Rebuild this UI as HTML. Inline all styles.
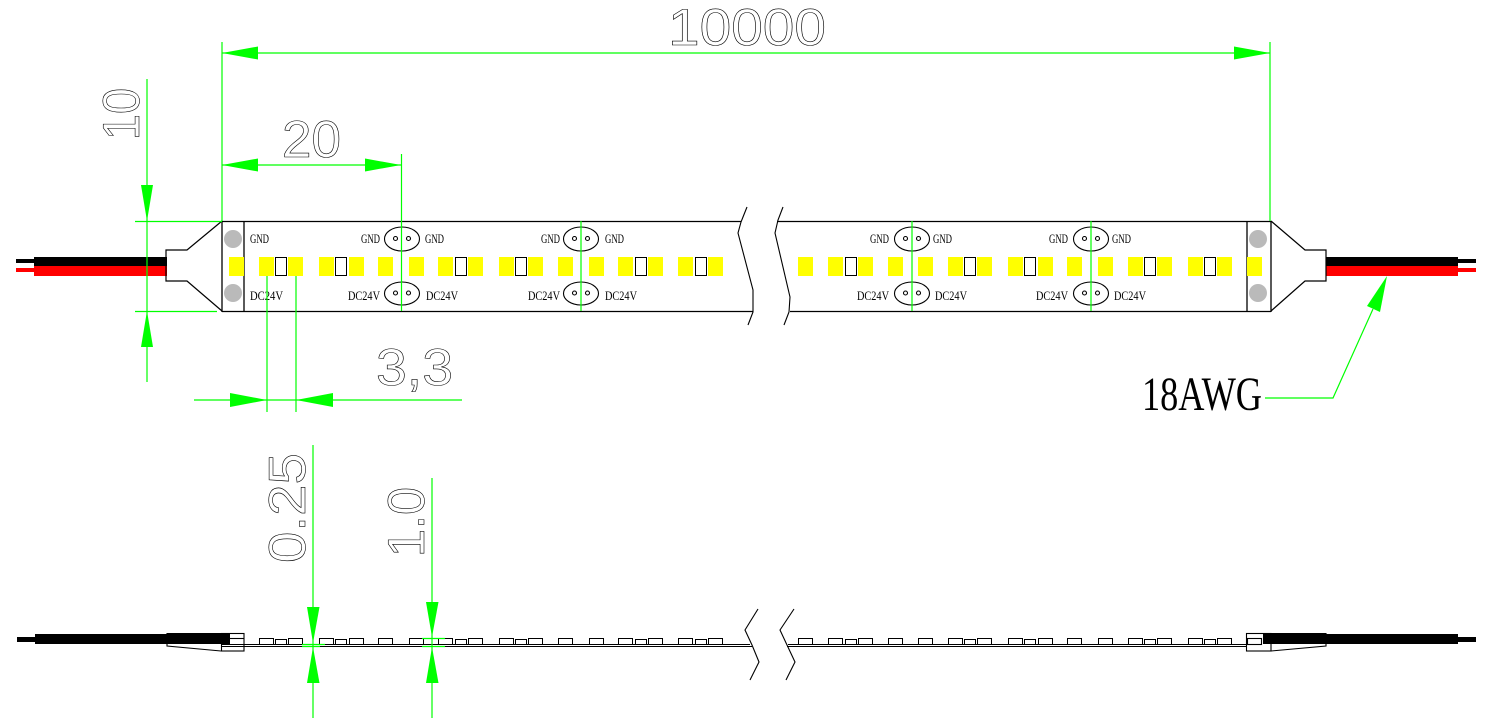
<!DOCTYPE html>
<html>
<head>
<meta charset="utf-8">
<style>
html,body{margin:0;padding:0;background:#fff;}
svg{display:block;}
.dt{font-family:"Liberation Sans",sans-serif;fill:none;stroke:#000;stroke-width:0.6;}
.lb{font-family:"Liberation Serif",serif;font-size:13px;fill:#000;}
</style>
</head>
<body>
<svg width="1489" height="724" viewBox="0 0 1489 724" xmlns="http://www.w3.org/2000/svg">
<defs>
<rect id="led" x="0" y="257" width="15" height="19" fill="#ffff00"/>
<rect id="res" x="0.5" y="257.5" width="11" height="18" fill="#fff" stroke="#000" stroke-width="1"/>
<rect id="sled" x="0.5" y="638.5" width="14" height="6" fill="#fff" stroke="#000" stroke-width="1"/>
<rect id="sres" x="0.5" y="639.5" width="11" height="5" fill="#fff" stroke="#000" stroke-width="1"/>
<g id="pad" fill="none" stroke="#000" stroke-width="1.1">
<ellipse cx="0" cy="239" rx="17.5" ry="12"/>
<ellipse cx="0" cy="293.5" rx="17.5" ry="11.5"/>
<circle cx="-6.5" cy="238.5" r="2"/><circle cx="6.5" cy="238.5" r="2"/>
<circle cx="-6.5" cy="293" r="2"/><circle cx="6.5" cy="293" r="2"/>
</g>
</defs>
<rect x="0" y="0" width="1489" height="724" fill="#fff"/>

<!-- TOP VIEW wires -->
<rect x="16" y="259" width="18" height="4" fill="#000"/>
<rect x="16" y="268" width="18" height="4" fill="#f00"/>
<rect x="34" y="257" width="133" height="9" fill="#000"/>
<rect x="34" y="266" width="133" height="10" fill="#f00"/>
<polyline points="222,221 187,250 166,250 166,281 187,281 222,311" fill="none" stroke="#000" stroke-width="1.2"/>
<rect x="1458" y="259" width="18" height="4" fill="#000"/>
<rect x="1458" y="268" width="18" height="4" fill="#f00"/>
<rect x="1326" y="257" width="132" height="9" fill="#000"/>
<rect x="1326" y="266" width="132" height="10" fill="#f00"/>
<polyline points="1271,221 1305,250 1326,250 1326,281 1305,281 1271,311" fill="none" stroke="#000" stroke-width="1.2"/>

<!-- strip outlines -->
<g stroke="#000" stroke-width="1.3" fill="none">
<line x1="222" y1="221.5" x2="741" y2="221.5"/>
<line x1="222" y1="311.5" x2="753" y2="311.5"/>
<line x1="222" y1="221" x2="222" y2="312"/>
<line x1="244" y1="221" x2="244" y2="312"/>
<line x1="777" y1="221.5" x2="1271" y2="221.5"/>
<line x1="790" y1="311.5" x2="1271" y2="311.5"/>
<line x1="1271" y1="221" x2="1271" y2="312"/>
<line x1="1247" y1="221" x2="1247" y2="312"/>
<polyline points="747,207 743,217 741,222 738,233 753,290 753,312 748,325" stroke-width="1.1"/>
<polyline points="783,207 778,220 775,233 790,297 789,312 784,325" stroke-width="1.1"/>
</g>

<circle cx="233" cy="239" r="9" fill="#bababa"/>
<circle cx="233" cy="293" r="9" fill="#bababa"/>
<circle cx="1258" cy="239" r="9" fill="#bababa"/>
<circle cx="1258" cy="293" r="9" fill="#bababa"/>

<!-- LEDs top -->
<use href="#led" x="229"/><use href="#led" x="259"/><use href="#led" x="288"/><use href="#led" x="319"/>
<use href="#led" x="349"/><use href="#led" x="378"/><use href="#led" x="409"/><use href="#led" x="438"/>
<use href="#led" x="468"/><use href="#led" x="499"/><use href="#led" x="528"/><use href="#led" x="558"/>
<use href="#led" x="589"/><use href="#led" x="618"/><use href="#led" x="648"/><use href="#led" x="678"/>
<use href="#led" x="708"/>
<use href="#led" x="798"/><use href="#led" x="828"/><use href="#led" x="858"/><use href="#led" x="888"/>
<use href="#led" x="918"/><use href="#led" x="948"/><use href="#led" x="977"/><use href="#led" x="1008"/>
<use href="#led" x="1038"/><use href="#led" x="1067"/><use href="#led" x="1098"/><use href="#led" x="1128"/>
<use href="#led" x="1157"/><use href="#led" x="1188"/><use href="#led" x="1217"/><use href="#led" x="1247"/>
<use href="#res" x="275"/><use href="#res" x="335"/><use href="#res" x="455"/><use href="#res" x="515"/>
<use href="#res" x="635"/><use href="#res" x="695"/><use href="#res" x="845"/><use href="#res" x="964"/>
<use href="#res" x="1024"/><use href="#res" x="1144"/><use href="#res" x="1204"/>

<!-- pads -->
<use href="#pad" x="402"/><use href="#pad" x="581"/><use href="#pad" x="912"/><use href="#pad" x="1091"/>

<!-- labels -->
<g class="lb">
<text x="250" y="243" textLength="19" lengthAdjust="spacingAndGlyphs">GND</text>
<text x="250" y="300" textLength="33" lengthAdjust="spacingAndGlyphs">DC24V</text>
<text x="361" y="243" textLength="19" lengthAdjust="spacingAndGlyphs">GND</text>
<text x="425" y="243" textLength="19" lengthAdjust="spacingAndGlyphs">GND</text>
<text x="348" y="300" textLength="32" lengthAdjust="spacingAndGlyphs">DC24V</text>
<text x="426" y="300" textLength="32" lengthAdjust="spacingAndGlyphs">DC24V</text>
<text x="541" y="243" textLength="19" lengthAdjust="spacingAndGlyphs">GND</text>
<text x="605" y="243" textLength="19" lengthAdjust="spacingAndGlyphs">GND</text>
<text x="528" y="300" textLength="32" lengthAdjust="spacingAndGlyphs">DC24V</text>
<text x="605" y="300" textLength="32" lengthAdjust="spacingAndGlyphs">DC24V</text>
<text x="870" y="243" textLength="19" lengthAdjust="spacingAndGlyphs">GND</text>
<text x="933" y="243" textLength="19" lengthAdjust="spacingAndGlyphs">GND</text>
<text x="857" y="300" textLength="32" lengthAdjust="spacingAndGlyphs">DC24V</text>
<text x="935" y="300" textLength="32" lengthAdjust="spacingAndGlyphs">DC24V</text>
<text x="1049" y="243" textLength="19" lengthAdjust="spacingAndGlyphs">GND</text>
<text x="1112" y="243" textLength="19" lengthAdjust="spacingAndGlyphs">GND</text>
<text x="1036" y="300" textLength="32" lengthAdjust="spacingAndGlyphs">DC24V</text>
<text x="1114" y="300" textLength="32" lengthAdjust="spacingAndGlyphs">DC24V</text>
</g>

<!-- DIMENSIONS TOP -->
<g stroke="#00ff00" stroke-width="1.2" fill="none">
<line x1="222" y1="42" x2="222" y2="221"/>
<line x1="1270" y1="42" x2="1270" y2="221"/>
<line x1="222" y1="53" x2="1270" y2="53"/>
<line x1="222" y1="165" x2="401" y2="165"/>
<line x1="401.5" y1="154" x2="401.5" y2="311"/>
<line x1="581" y1="221" x2="581" y2="311"/>
<line x1="912" y1="221" x2="912" y2="311"/>
<line x1="1091" y1="221" x2="1091" y2="311"/>
<line x1="147" y1="79" x2="147" y2="382"/>
<line x1="135" y1="221.5" x2="222" y2="221.5"/>
<line x1="135" y1="311.5" x2="217" y2="311.5"/>
<line x1="194" y1="400" x2="462" y2="400"/>
<line x1="267" y1="276" x2="267" y2="412"/>
<line x1="296" y1="276" x2="296" y2="412"/>
<polyline points="1265,398 1333,398 1373,309"/>
</g>
<g fill="#00ff00">
<polygon points="222,53 258,46.5 258,59.5"/>
<polygon points="1270,53 1234,46.5 1234,59.5"/>
<polygon points="222,165 258,158.5 258,171.5"/>
<polygon points="401,165 365,158.5 365,171.5"/>
<polygon points="147,221 141,185 153,185"/>
<polygon points="147,311 141,347 153,347"/>
<polygon points="267,400 230,393 230,407"/>
<polygon points="296,400 333,393 333,407"/>
<polygon points="1387,276 1367,306 1380,312"/>
</g>

<text class="dt" x="668" y="45" font-size="52" textLength="158" lengthAdjust="spacingAndGlyphs">10000</text>
<text class="dt" x="282" y="157" font-size="52" textLength="59" lengthAdjust="spacingAndGlyphs">20</text>
<text class="dt" x="376" y="385" font-size="52" textLength="77" lengthAdjust="spacingAndGlyphs">3,3</text>
<text class="dt" transform="translate(139,140) rotate(-90)" font-size="52" textLength="52" lengthAdjust="spacingAndGlyphs">10</text>
<text class="dt" transform="translate(305,563) rotate(-90)" font-size="52" textLength="110" lengthAdjust="spacingAndGlyphs">0.25</text>
<text class="dt" transform="translate(424,557) rotate(-90)" font-size="52" textLength="70" lengthAdjust="spacingAndGlyphs">1.0</text>
<text x="1142" y="410" font-family="Liberation Serif, serif" font-size="48" fill="#000" textLength="120" lengthAdjust="spacingAndGlyphs">18AWG</text>

<!-- SIDE VIEW -->
<rect x="17" y="637" width="18" height="5" fill="#000"/>
<rect x="35" y="634" width="132" height="10" fill="#000"/>
<rect x="167" y="633" width="63" height="11" fill="#000"/>
<g fill="none" stroke="#000" stroke-width="1.1">
<polyline points="167,633 167,646 221,651"/>
<rect x="221.5" y="633.5" width="22.5" height="17.5"/>
<line x1="230" y1="638.5" x2="244" y2="638.5"/>
<line x1="221" y1="644.5" x2="750" y2="644.5"/>
<line x1="221" y1="646.5" x2="752" y2="646.5"/>
<line x1="788" y1="644.5" x2="1246" y2="644.5"/>
<line x1="787" y1="646.5" x2="1246" y2="646.5"/>
<polyline points="758,609 745,630 752,645 759,662 750,680"/>
<polyline points="794,609 780,630 787,645 795,662 786,680"/>
<rect x="1246.5" y="633.5" width="24.5" height="17.5"/>
<rect x="1247.5" y="638.5" width="14" height="6"/>
<polyline points="1326,633 1326,646 1271,651"/>
</g>
<rect x="1263" y="633" width="63" height="11" fill="#000"/>
<rect x="1326" y="634" width="132" height="10" fill="#000"/>
<rect x="1458" y="637" width="18" height="5" fill="#000"/>

<use href="#sled" x="259"/><use href="#sled" x="288"/><use href="#sled" x="319"/><use href="#sled" x="349"/>
<use href="#sled" x="378"/><use href="#sled" x="409"/><use href="#sled" x="438"/><use href="#sled" x="468"/>
<use href="#sled" x="499"/><use href="#sled" x="528"/><use href="#sled" x="558"/><use href="#sled" x="589"/>
<use href="#sled" x="618"/><use href="#sled" x="648"/><use href="#sled" x="678"/><use href="#sled" x="708"/>
<use href="#sled" x="798"/><use href="#sled" x="828"/><use href="#sled" x="858"/><use href="#sled" x="888"/>
<use href="#sled" x="918"/><use href="#sled" x="948"/><use href="#sled" x="977"/><use href="#sled" x="1008"/>
<use href="#sled" x="1038"/><use href="#sled" x="1067"/><use href="#sled" x="1098"/><use href="#sled" x="1128"/>
<use href="#sled" x="1157"/><use href="#sled" x="1188"/><use href="#sled" x="1217"/>
<use href="#sres" x="275"/><use href="#sres" x="335"/><use href="#sres" x="455"/><use href="#sres" x="515"/>
<use href="#sres" x="635"/><use href="#sres" x="695"/><use href="#sres" x="845"/><use href="#sres" x="964"/>
<use href="#sres" x="1024"/><use href="#sres" x="1144"/><use href="#sres" x="1204"/>

<g stroke="#00ff00" stroke-width="1.2" fill="none">
<line x1="313" y1="445" x2="313" y2="718"/>
<line x1="432" y1="478" x2="432" y2="718"/>
<line x1="302" y1="644.5" x2="325" y2="644.5"/>
<line x1="302" y1="646.5" x2="320" y2="646.5"/>
<line x1="422" y1="638.5" x2="445" y2="638.5"/>
<line x1="422" y1="646.5" x2="445" y2="646.5"/>
</g>
<g fill="#00ff00">
<polygon points="313,643 307,607 319.5,607"/>
<polygon points="313,647 307,683 319.5,683"/>
<polygon points="432,637 426,602 438.5,602"/>
<polygon points="432,647 426,683 438.5,683"/>
</g>
</svg>
</body>
</html>
